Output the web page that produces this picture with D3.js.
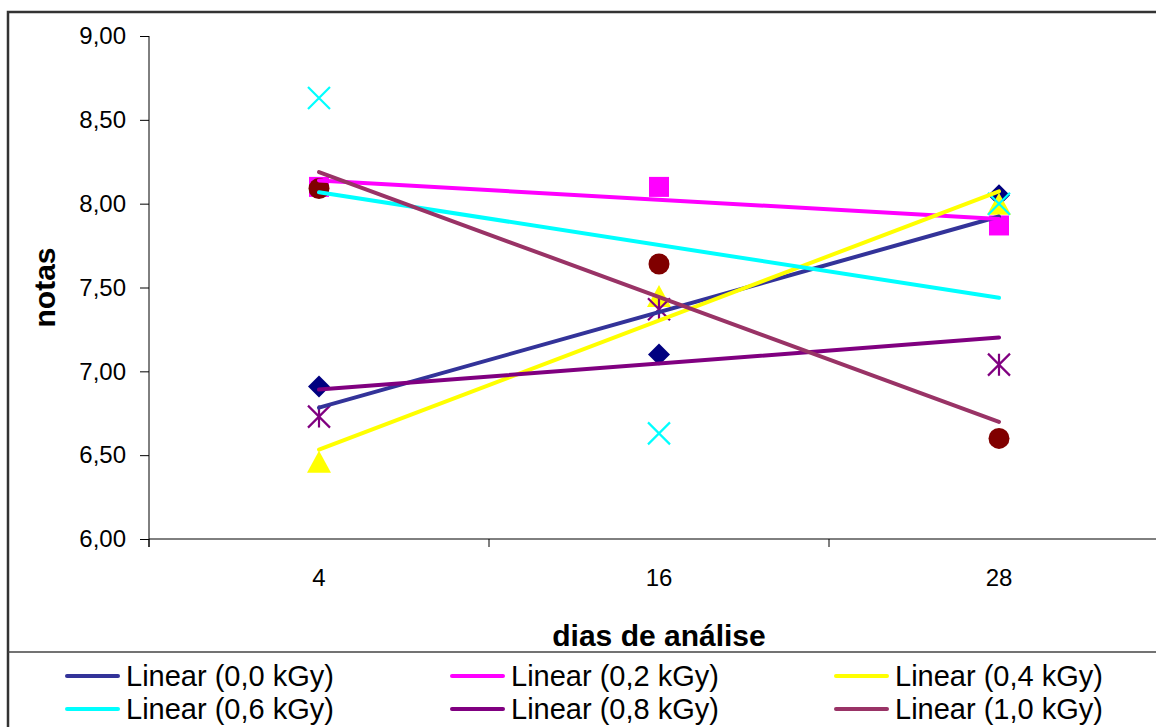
<!DOCTYPE html>
<html>
<head>
<meta charset="utf-8">
<script src="https://cdn.jsdelivr.net/npm/d3@7"></script>
<style>
  body { margin: 0; background: #fff; }
  svg { display: block; font-family: "Liberation Sans", Arial, sans-serif; }
</style>
</head>
<body>
<div id="chart"></div>
<script>
const days = ["4", "16", "28"];
const doses = ["0,0 kGy", "0,2 kGy", "0,4 kGy", "0,6 kGy", "0,8 kGy", "1,0 kGy"];
const notas00 = [6.91, 7.10, 8.05];
const notas02 = [8.10, 8.10, 7.87];
const notas04 = [6.46, 7.45, 8.00];
const notas06 = [8.63, 6.63, 8.00];
const notas08 = [6.73, 7.37, 7.04];
const notas10 = [8.09, 7.64, 6.60];
const yTicks = [6, 6.5, 7, 7.5, 8, 8.5, 9];

const series = [
  { name: doses[0], values: notas00, marker: "diamond",  mColor: "#000080", lColor: "#333399" },
  { name: doses[1], values: notas02, marker: "square",   mColor: "#ff00ff", lColor: "#ff00ff" },
  { name: doses[2], values: notas04, marker: "triangle", mColor: "#ffff00", lColor: "#ffff00" },
  { name: doses[3], values: notas06, marker: "x",        mColor: "#00ffff", lColor: "#00ffff" },
  { name: doses[4], values: notas08, marker: "star",     mColor: "#800080", lColor: "#800080" },
  { name: doses[5], values: notas10, marker: "circle",   mColor: "#800000", lColor: "#993366" }
];

const width = 1156, height = 727;
const margin = { top: 36, left: 149, plotRight: 1169, bottom: 539 };

const svg = d3.select("#chart").append("svg")
  .attr("width", width)
  .attr("height", height);

// outer chart frame
svg.append("rect")
  .attr("x", 8).attr("y", 12)
  .attr("width", width + 20).attr("height", height + 20)
  .attr("fill", "none").attr("stroke", "#333").attr("stroke-width", 2.5);

const x = d3.scaleBand().domain(days).range([margin.left, margin.plotRight]);
const y = d3.scaleLinear().domain([6, 9]).range([margin.bottom, margin.top]);

// y axis
const yAxis = svg.append("g")
  .attr("transform", `translate(${margin.left},0)`)
  .call(d3.axisLeft(y).tickValues(yTicks).tickSize(9).tickPadding(14)
    .tickFormat(d => d3.format(".2f")(d).replace(".", ",")));
yAxis.select(".domain").attr("stroke", "#000").attr("stroke-width", 1)
  .attr("d", `M0,${margin.top}V${margin.bottom + 8}`);
yAxis.selectAll(".tick line").attr("stroke", "#000");
yAxis.selectAll(".tick text").attr("font-size", 24).attr("fill", "#000")
  .attr("font-family", "Liberation Sans, Arial, sans-serif");

// x axis
const xAxis = svg.append("g")
  .attr("transform", `translate(0,${margin.bottom})`)
  .call(d3.axisBottom(x).tickSize(0).tickPadding(30));
xAxis.select(".domain").attr("stroke", "#000").attr("stroke-width", 1)
  .attr("d", `M${margin.left},0H${margin.plotRight}`);
xAxis.selectAll(".tick text").attr("font-size", 24).attr("fill", "#000")
  .attr("font-family", "Liberation Sans, Arial, sans-serif");
xAxis.selectAll(".sep")
  .data(days)
  .join("line")
  .attr("class", "sep")
  .attr("x1", d => x(d)).attr("x2", d => x(d))
  .attr("y1", 0).attr("y2", 8)
  .attr("stroke", "#000");

// axis titles
svg.append("text")
  .attr("transform", `translate(55,${(margin.top + margin.bottom) / 2}) rotate(-90)`)
  .attr("text-anchor", "middle")
  .attr("font-size", 30).attr("font-weight", "bold")
  .text("notas");

svg.append("text")
  .attr("x", x("16") + x.bandwidth() / 2)
  .attr("y", 646)
  .attr("text-anchor", "middle")
  .attr("font-size", 30).attr("font-weight", "bold")
  .text("dias de análise");

// markers
const cx = d => x(d) + x.bandwidth() / 2;

function drawMarker(g, type, color) {
  const r = 11;
  if (type === "diamond") {
    g.append("path").attr("d", `M0,${-r}L${r},0L0,${r}L${-r},0Z`).attr("fill", color);
  } else if (type === "square") {
    g.append("rect").attr("x", -10).attr("y", -10).attr("width", 20).attr("height", 20).attr("fill", color);
  } else if (type === "triangle") {
    g.append("path").attr("d", `M0,${-r}L${r + 1},${r}L${-r - 1},${r}Z`).attr("fill", color);
  } else if (type === "x") {
    g.append("path").attr("d", `M${-r},${-r}L${r},${r}M${-r},${r}L${r},${-r}`)
      .attr("stroke", color).attr("stroke-width", 2.2).attr("fill", "none");
  } else if (type === "star") {
    g.append("path").attr("d", `M${-r},${-r}L${r},${r}M${-r},${r}L${r},${-r}M0,${-r}V${r}`)
      .attr("stroke", color).attr("stroke-width", 2.2).attr("fill", "none");
  } else if (type === "circle") {
    g.append("circle").attr("r", 10.5).attr("fill", color);
  }
}

series.forEach(s => {
  s.values.forEach((v, i) => {
    const g = svg.append("g").attr("transform", `translate(${cx(days[i])},${y(v)})`);
    drawMarker(g, s.marker, s.mColor);
  });
});

// linear trendlines (least squares on category index)
function trend(values) {
  const n = values.length;
  const xs = values.map((_, i) => i + 1);
  const mx = d3.mean(xs), my = d3.mean(values);
  const b = d3.sum(xs, (xi, i) => (xi - mx) * (values[i] - my)) / d3.sum(xs, xi => (xi - mx) ** 2);
  const a = my - b * mx;
  return [a + b * 1, a + b * n];
}

series.forEach(s => {
  const [v0, v1] = trend(s.values);
  svg.append("line")
    .attr("x1", cx(days[0])).attr("y1", y(v0))
    .attr("x2", cx(days[days.length - 1])).attr("y2", y(v1))
    .attr("stroke", s.lColor).attr("stroke-width", 4).attr("stroke-linecap", "round");
});

// legend
svg.append("line")
  .attr("x1", 8).attr("x2", width).attr("y1", 652).attr("y2", 652)
  .attr("stroke", "#444").attr("stroke-width", 1.5);

const colX = [67, 452, 836];
const rowY = [676, 709];
series.forEach((s, i) => {
  const lx = colX[i % 3], ly = rowY[Math.floor(i / 3)];
  svg.append("line")
    .attr("x1", lx).attr("x2", lx + 51).attr("y1", ly).attr("y2", ly)
    .attr("stroke", s.lColor).attr("stroke-width", 4).attr("stroke-linecap", "round");
  svg.append("text")
    .attr("x", lx + 59).attr("y", ly + 10)
    .attr("font-size", 29)
    .text(`Linear (${s.name})`);
});
</script>
</body>
</html>
